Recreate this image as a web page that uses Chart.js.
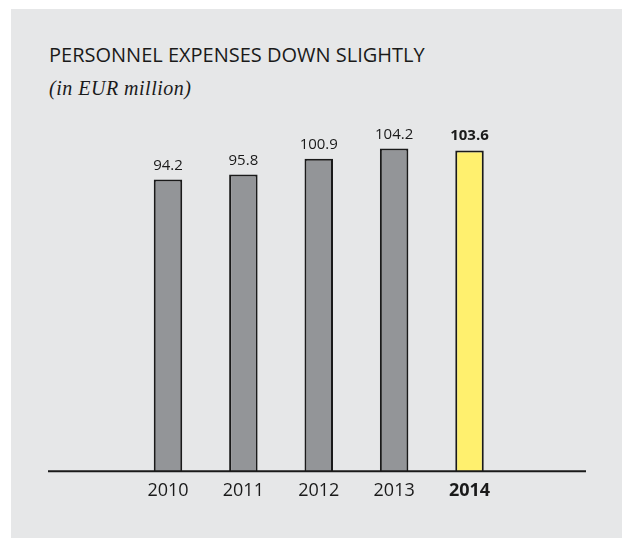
<!DOCTYPE html>
<html>
<head>
<meta charset="utf-8">
<script src="https://cdn.jsdelivr.net/npm/chart.js@4"></script>
<style>
  html, body { margin: 0; padding: 0; background: #ffffff; }
  #wrap { position: relative; width: 622px; height: 538px; overflow: hidden; }
  #panel { position: absolute; left: 11px; top: 9px; right: 0; bottom: 0; background: #e6e7e8; }
  #title { position: absolute; left: 49px; top: 45px; font: 20px/20px 'Open Sans', sans-serif; color: #1a1a1a; white-space: nowrap; }
  #sub { position: absolute; left: 49px; top: 78px; font: italic 20px/20px 'Liberation Serif', serif; letter-spacing: 0.5px; color: #1a1a1a; white-space: nowrap; }
  canvas { position: absolute; left: 0; top: 0; }
</style>
</head>
<body>
<div id="wrap">
  <div id="panel"></div>
  <div id="title">PERSONNEL EXPENSES DOWN SLIGHTLY</div>
  <div id="sub">(in EUR million)</div>
  <canvas id="chart" width="622" height="538"></canvas>
</div>
<script>
// Personnel expenses per year, EUR million
const years = ['2010', '2011', '2012', '2013', '2014'];
const expenses = [94.2, 95.8, 100.9, 104.2, 103.6];
const currentYear = '2014';

const GREY = '#939598';
const YELLOW = '#fff06e';
const INK = '#1a1a1a';

const isCurrent = i => years[i] === currentYear;

// Base line running under all bars, wider than the plot area
const baseLine = {
  id: 'baseLine',
  afterDatasetsDraw(chart) {
    const ctx = chart.ctx;
    const y = chart.scales.y.getPixelForValue(0);
    ctx.save();
    ctx.strokeStyle = INK;
    ctx.lineWidth = 2;
    ctx.beginPath();
    ctx.moveTo(48, y);
    ctx.lineTo(586, y);
    ctx.stroke();
    ctx.restore();
  }
};

// Value printed above each bar
const valueLabels = {
  id: 'valueLabels',
  afterDatasetsDraw(chart) {
    const ctx = chart.ctx;
    const meta = chart.getDatasetMeta(0);
    ctx.save();
    ctx.textAlign = 'center';
    ctx.textBaseline = 'alphabetic';
    ctx.fillStyle = INK;
    meta.data.forEach((bar, i) => {
      ctx.font = (isCurrent(i) ? 'bold ' : '') + '15px "Open Sans"';
      ctx.fillText(expenses[i].toFixed(1), bar.x, bar.y - 10);
    });
    ctx.restore();
  }
};

new Chart(document.getElementById('chart'), {
  type: 'bar',
  data: {
    labels: years,
    datasets: [{
      data: expenses,
      backgroundColor: ctx => isCurrent(ctx.dataIndex) ? YELLOW : GREY,
      borderColor: INK,
      borderWidth: 2,
      barPercentage: 0.378,
      categoryPercentage: 1
    }]
  },
  options: {
    responsive: false,
    animation: false,
    layout: { padding: { left: 130.3, right: 114.8, top: 68.7, bottom: 27.1 } },
    plugins: { legend: { display: false }, tooltip: { enabled: false }, title: { display: false } },
    scales: {
      x: {
        grid: { display: false, drawTicks: false },
        border: { display: false },
        ticks: {
          padding: 9,
          color: INK,
          font: ctx => ({ family: 'Open Sans', size: 18, weight: isCurrent(ctx.index) ? 'bold' : 'normal' })
        }
      },
      y: { display: false, min: 0, max: 130 }
    }
  },
  plugins: [baseLine, valueLabels]
});
</script>
</body>
</html>
